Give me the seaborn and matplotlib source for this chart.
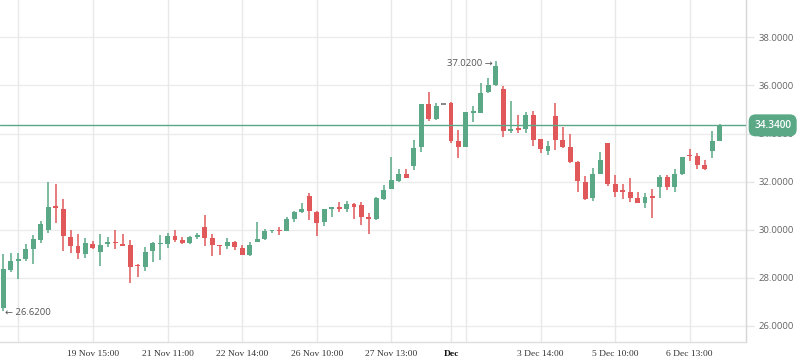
import numpy as np
import pandas as pd
import matplotlib
matplotlib.use("Agg")
import matplotlib.pyplot as plt
import matplotlib.transforms as mtransforms
import seaborn as sns

# ---- data ----
opens = [26.74, 28.31, 28.70, 28.77, 29.19, 29.56, 29.98, 30.93, 30.86, 29.67,
         29.31, 28.98, 29.40, 29.08, 29.38, 29.45, 29.35, 29.35, 28.49, 28.45,
         29.12, 29.39, 29.38, 29.73, 29.56, 29.45, 29.70, 30.12, 29.66, 29.32,
         29.31, 29.49, 29.24, 28.94, 29.49, 29.60, 29.93, 29.95, 29.94, 30.44,
         30.74, 31.40, 30.74, 30.33, 30.85, 30.92, 30.85, 31.06, 31.02, 30.48,
         30.44, 31.27, 31.69, 32.02, 32.31, 32.65, 33.45, 35.23, 34.60, 35.19,
         35.29, 33.70, 33.45, 34.86, 34.87, 35.72, 36.02, 35.84, 34.12, 34.19,
         34.19, 34.77, 33.76, 33.29, 34.73, 33.73, 33.42, 32.83, 31.99, 31.30,
         32.31, 33.62, 31.90, 31.59, 31.58, 31.30, 31.12, 31.34, 31.79, 32.17,
         31.79, 32.31, 33.07, 33.06, 32.69, 33.29, 33.69]
highs = [28.98, 29.04, 29.04, 29.40, 29.77, 30.37, 31.97, 31.90, 31.27, 29.98,
         29.81, 29.63, 29.54, 29.81, 29.70, 29.98, 29.81, 29.56, 28.56, 29.29,
         29.49, 29.77, 29.84, 29.98, 29.67, 29.73, 29.87, 30.60, 29.81, 29.35,
         29.66, 29.54, 29.35, 29.49, 30.33, 30.01, 29.98, 30.12, 30.54, 30.78,
         31.12, 31.51, 30.78, 30.85, 30.92, 31.16, 31.19, 31.12, 31.16, 30.67,
         31.37, 31.85, 33.03, 32.52, 32.52, 33.73, 35.23, 35.74, 35.29, 35.19,
         35.33, 34.15, 34.91, 35.15, 36.09, 36.30, 37.02, 35.98, 35.37, 34.77,
         34.91, 34.94, 33.76, 33.69, 35.29, 34.29, 33.98, 32.85, 32.23, 32.58,
         33.24, 33.62, 32.27, 31.90, 32.13, 31.58, 31.51, 31.67, 32.27, 32.27,
         32.51, 33.01, 33.34, 33.17, 32.90, 34.12, 34.38]
lows = [26.62, 28.24, 27.95, 28.70, 28.56, 29.45, 29.84, 30.26, 29.12, 29.01,
        28.77, 28.83, 29.20, 28.49, 29.26, 29.19, 29.31, 27.76, 28.04, 28.29,
        28.66, 28.73, 29.24, 29.47, 29.40, 29.40, 29.60, 29.33, 28.91, 28.94,
        29.19, 29.15, 28.94, 28.91, 29.49, 29.56, 29.87, 29.77, 29.94, 30.33,
        30.67, 30.40, 29.73, 30.15, 30.54, 30.74, 30.74, 30.44, 30.19, 29.81,
        30.40, 31.23, 31.69, 31.97, 32.16, 32.48, 33.24, 34.54, 34.56, 35.19,
        33.59, 32.96, 33.45, 34.49, 34.87, 35.67, 35.98, 33.84, 34.01, 34.01,
        34.01, 33.49, 33.20, 33.10, 33.31, 33.41, 32.78, 31.58, 31.23, 31.20,
        32.31, 31.81, 31.37, 31.27, 31.16, 31.12, 30.91, 30.49, 31.33, 31.65,
        31.55, 32.27, 32.87, 32.52, 32.48, 32.98, 33.69]
closes = [28.35, 28.70, 28.76, 29.19, 29.60, 30.23, 30.95, 30.91, 29.74, 29.33,
          29.04, 29.42, 29.24, 29.35, 29.49, 29.43, 29.33, 28.45, 28.47, 29.08,
          29.45, 29.41, 29.73, 29.56, 29.45, 29.67, 29.77, 29.66, 29.35, 29.30,
          29.49, 29.28, 28.94, 29.35, 29.60, 29.95, 29.95, 29.93, 30.44, 30.74,
          30.85, 30.79, 30.29, 30.85, 30.92, 30.85, 31.06, 30.95, 30.54, 30.46,
          31.30, 31.65, 32.06, 32.31, 32.16, 33.38, 35.23, 34.60, 35.15, 35.19,
          33.70, 33.45, 34.91, 34.88, 35.70, 36.02, 36.81, 34.12, 34.19, 34.15,
          34.77, 33.73, 33.34, 33.48, 33.73, 33.45, 32.83, 32.04, 31.27, 32.31,
          32.90, 31.90, 31.58, 31.57, 31.33, 31.12, 31.34, 31.32, 32.17, 31.79,
          32.31, 33.01, 33.05, 32.69, 32.52, 33.69, 34.34]

tick_pos = [2, 12, 22, 32, 42, 52, 60, 62, 72, 82, 92]
tick_labels = ["", "19 Nov 15:00", "21 Nov 11:00", "22 Nov 14:00", "26 Nov 10:00",
               "27 Nov 13:00", "Dec", "", "3 Dec 14:00", "5 Dec 10:00", "6 Dec 13:00"]
y_ticks = [26, 28, 30, 32, 34, 36, 38]
last_price = 34.34
max_label = "37.0200"
min_label = "26.6200"

df = pd.DataFrame({"open": opens, "high": highs, "low": lows, "close": closes})
df["idx"] = np.arange(len(df))

GREEN = "#5aa886"
RED = "#e0585a"
GRAY = "#8a8a8a"

sns.set_theme(style="white")
plt.rcParams["font.family"] = ["Open Sans", "DejaVu Sans"]

fig = plt.figure(figsize=(7.98, 3.63), dpi=100)
ax = fig.add_axes([0.0, 21.3 / 363, 745.7 / 798, 1 - 21.3 / 363])

# grid lines
for y in y_ticks:
    ax.axhline(y, color="#ececec", lw=1, zorder=0)
for x in tick_pos:
    ax.axvline(x, color="#e8e8e8", lw=1, zorder=0)

# candles
cols = []
for o, c in zip(df["open"], df["close"]):
    cols.append(GREEN if c > o else (RED if c < o else GRAY))
df["color"] = cols
ax.vlines(df["idx"], df["low"], df["high"], colors=df["color"], lw=1.1, zorder=2)
body_bottom = np.minimum(df["open"], df["close"])
body_h = np.maximum(np.abs(df["close"] - df["open"]), 0.06)
ax.bar(df["idx"], body_h, bottom=body_bottom, width=0.66, color=df["color"],
       linewidth=0, zorder=3)

# last price line
ax.axhline(last_price, color=GREEN, lw=1, zorder=4)
trans = mtransforms.blended_transform_factory(ax.transAxes, ax.transData)
ax.text(1.0 + 27 / 745.7, last_price, f"{last_price:.4f}", transform=trans,
        ha="center", va="center", color="white", fontsize=7.2, fontweight="semibold",
        bbox=dict(boxstyle="round,pad=0.55,rounding_size=0.7", fc=GREEN, ec="none"),
        zorder=6, clip_on=False)

# max / min annotations
imax = int(np.argmax(df["high"]))
imin = int(np.argmin(df["low"]))
ax.text(imax - 0.35, df["high"][imax] - 0.1, max_label + " \u2192", ha="right",
        va="center", fontsize=6.8, color="#555555", zorder=5)
ax.text(imin + 0.15, df["low"][imin] - 0.06, "\u2190 " + min_label, ha="left",
        va="center", fontsize=6.8, color="#555555", zorder=5)

# axes
ax.set_xlim(-0.456, 99.5)
ax.set_ylim(25.33, 39.56)
ax.yaxis.tick_right()
ax.set_yticks(y_ticks)
ax.set_yticklabels([f"{v:.4f}" for v in y_ticks], fontsize=6.8, color="#666666")
ax.tick_params(axis="y", length=6, width=1, color="#e6e6e6", pad=3)
ax.set_xticks(tick_pos)
ax.set_xticklabels(tick_labels, fontsize=6.8, color="#333333",
                   family=["Liberation Serif", "DejaVu Serif"])
ax.tick_params(axis="x", length=0, pad=6)
for lab in ax.get_xticklabels():
    if lab.get_text() == "Dec":
        lab.set_fontweight("bold")
        lab.set_color("#111111")

for side in ["top", "left"]:
    ax.spines[side].set_visible(False)
ax.spines["right"].set_color("#d6d6d6")
ax.spines["bottom"].set_color("#dedede")
ax.spines["right"].set_linewidth(1)
ax.spines["bottom"].set_linewidth(1)
ax.set_facecolor("white")
fig.patch.set_facecolor("white")

fig.savefig("out.png", dpi=100, facecolor="white")
